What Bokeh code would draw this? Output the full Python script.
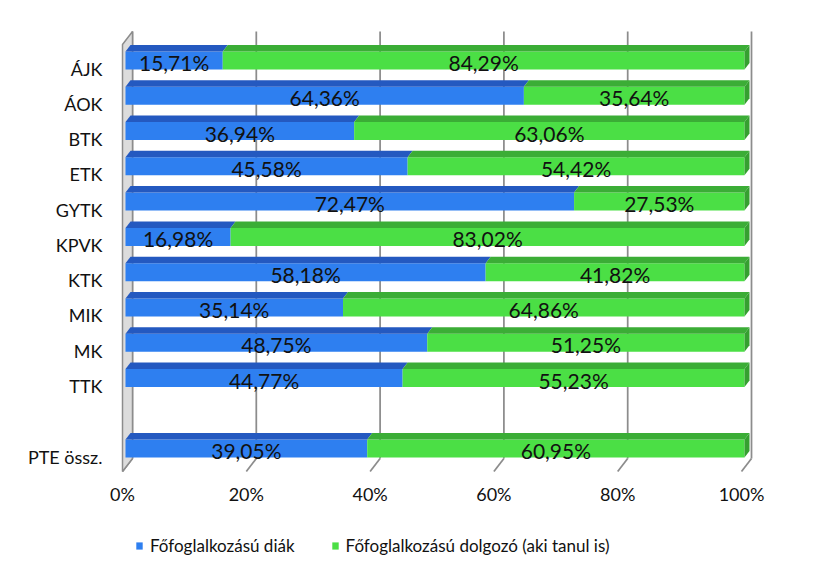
import numpy as np
from bokeh.plotting import figure
from bokeh.layouts import column
from bokeh.models import FixedTicker, Legend, LegendItem, ColumnDataSource, Range1d
from bokeh.embed import file_html
from bokeh.resources import INLINE
from bokeh.core.properties import value

# ---------------- data ----------------
categories = ["ÁJK", "ÁOK", "BTK", "ETK", "GYTK", "KPVK", "KTK", "MIK", "MK", "TTK", "", "PTE össz."]
diak = [15.71, 64.36, 36.94, 45.58, 72.47, 16.98, 58.18, 35.14, 48.75, 44.77, None, 39.05]
dolgozo = [84.29, 35.64, 63.06, 54.42, 27.53, 83.02, 41.82, 64.86, 51.25, 55.23, None, 60.95]
x_ticks = [0, 20, 40, 60, 80, 100]
x_tick_labels = ["0%", "20%", "40%", "60%", "80%", "100%"]
series_names = ["Főfoglalkozású diák", "Főfoglalkozású dolgozó (aki tanul is)"]

# ---------------- geometry (pixel based 3D look) ----------------
PX_X = 100 / 619.0          # % per pixel
PX_Y = 1 / 35.27            # slot units per pixel
FLOOR_Y = -15 * PX_Y
TOP_Y = (455 - 43) * PX_Y
WX, WY = 10 * PX_X, 13 * PX_Y        # depth of the whole box
BX0 = 3 * PX_X                       # bar front x offset
BYC = 8 * PX_Y                       # bar front centre offset above slot
BH = 18 * PX_Y                       # bar front height
BDX, BDY = 5 * PX_X, 6.5 * PX_Y      # bar depth

FONT = "Lato"
BLUE_F, BLUE_T = "#2E7FF0", "#2459C0"
GREEN_F, GREEN_T, GREEN_S = "#4BDF45", "#3BAD36", "#35A030"
GRID = "#8C8C8C"

n = len(categories)
slots = [n - 1 - i for i in range(n)]

p = figure(frame_width=652, frame_height=450, output_backend="svg", toolbar_location=None,
           x_range=Range1d(-10 * PX_X, (765 - 123) * PX_X),
           y_range=Range1d((455 - 472) * PX_Y, (455 - 22) * PX_Y),
           min_border_left=112, min_border_right=35, min_border_top=23, min_border_bottom=0)
p.outline_line_color = None
p.xgrid.visible = False
p.ygrid.visible = False
p.background_fill_color = "white"
p.border_fill_color = "white"

# back wall gridlines + floor slants
gx_back = [[t + WX, t + WX] for t in x_ticks]
gy_back = [[FLOOR_Y + WY, TOP_Y + WY] for t in x_ticks]
p.multi_line(gx_back, gy_back, line_color=GRID, line_width=1.75)
gx_floor = [[t, t + WX] for t in x_ticks]
gy_floor = [[FLOOR_Y, FLOOR_Y + WY] for t in x_ticks]
p.multi_line(gx_floor, gy_floor, line_color=GRID, line_width=1.75)

# left side wall
p.patch([0, WX, WX, 0], [FLOOR_Y, FLOOR_Y + WY, TOP_Y + WY, TOP_Y],
        fill_color="#DCDCDC", line_color=GRID, line_width=1.5)

# bars
idx = [i for i in range(n) if diak[i] is not None]
yc = np.array([slots[i] + BYC for i in idx], dtype=float)
a = np.array([diak[i] for i in idx], dtype=float)
b = np.array([dolgozo[i] for i in idx], dtype=float)

blue_src = ColumnDataSource(dict(y=yc, left=np.full(len(a), BX0), right=BX0 + a))
green_src = ColumnDataSource(dict(y=yc, left=BX0 + a, right=BX0 + a + b))

p.hbar(y="y", left="left", right="right", height=BH, source=blue_src,
       fill_color=BLUE_F, line_color=None)
p.hbar(y="y", left="left", right="right", height=BH, source=green_src,
       fill_color=GREEN_F, line_color=None)

def top_faces(lefts, rights, ys):
    xs, yss = [], []
    for l, r, y in zip(lefts, rights, ys):
        yt = y + BH / 2
        xs.append([float(l), float(r), float(r + BDX), float(l + BDX)])
        yss.append([float(yt), float(yt), float(yt + BDY), float(yt + BDY)])
    return xs, yss

bx, by = top_faces(BX0 + 0 * a, BX0 + a, yc)
p.patches(bx, by, fill_color=BLUE_T, line_color=None)
gx, gy = top_faces(BX0 + a, BX0 + a + b, yc)
p.patches(gx, gy, fill_color=GREEN_T, line_color=None)

sx, sy = [], []
for l, r, y in zip(a, b, yc):
    R = float(BX0 + l + r)
    y = float(y)
    sx.append([R, R + BDX, R + BDX, R])
    sy.append([y - BH / 2, y - BH / 2 + BDY, y + BH / 2 + BDY, y + BH / 2])
p.patches(sx, sy, fill_color=GREEN_S, line_color=None)

# data labels
def fmt(v):
    return ("%.2f" % v).replace(".", ",") + "%"

lab_x = [float(v) for v in list(BX0 + a / 2) + list(BX0 + a + b / 2)]
lab_y = [float(v) for v in list(yc - 0.06) + list(yc - 0.06)]
lab_t = [fmt(v) for v in a] + [fmt(v) for v in b]
p.text(x=lab_x, y=lab_y, text=lab_t, text_align="center", text_baseline="middle",
       text_font=value(FONT), text_font_size="21px", text_color="#111111")

# axes
p.xaxis.ticker = FixedTicker(ticks=x_ticks)
p.xaxis.major_label_overrides = {t: l for t, l in zip(x_ticks, x_tick_labels)}
p.xaxis.axis_line_color = None
p.xaxis.major_tick_line_color = None
p.xaxis.minor_tick_line_color = None
p.xaxis.major_tick_out = 0
p.xaxis.major_tick_in = 0
p.xaxis.major_label_standoff = 9
p.xaxis.major_label_text_font = FONT
p.xaxis.major_label_text_font_size = "18px"
p.xaxis.major_label_text_color = "#111111"

ytick = [slots[i] for i in range(n) if categories[i] != ""]
p.yaxis.ticker = FixedTicker(ticks=ytick)
p.yaxis.major_label_overrides = {slots[i]: categories[i] for i in range(n) if categories[i] != ""}
p.yaxis.axis_line_color = None
p.yaxis.major_tick_line_color = None
p.yaxis.minor_tick_line_color = None
p.yaxis.major_tick_out = 0
p.yaxis.major_tick_in = 0
p.yaxis.major_label_standoff = 10
p.yaxis.major_label_text_font = FONT
p.yaxis.major_label_text_font_size = "18px"
p.yaxis.major_label_text_color = "#111111"

# legend strip (separate small figure; its swatch renderers sit outside its ranges)
p2 = figure(width=799, height=60, output_backend="svg", toolbar_location=None,
            x_axis_location=None, y_axis_location=None,
            x_range=Range1d(0, 1), y_range=Range1d(0, 1),
            min_border_left=0, min_border_right=0, min_border_top=0, min_border_bottom=0)
p2.outline_line_color = None
p2.xgrid.visible = False
p2.ygrid.visible = False
lb = p2.hbar(y=[-5], left=[-5], right=[-4], height=0.1, fill_color=BLUE_F, line_color=None)
lg = p2.hbar(y=[-5], left=[-5], right=[-4], height=0.1, fill_color=GREEN_F, line_color=None)
legend = Legend(items=[LegendItem(label=series_names[0], renderers=[lb]),
                       LegendItem(label=series_names[1], renderers=[lg])],
                orientation="horizontal", location=(23, 11),
                border_line_color=None, background_fill_alpha=0,
                glyph_width=8, glyph_height=9, label_standoff=7, spacing=36,
                padding=0, margin=0,
                label_text_font=FONT, label_text_font_size="17px", label_text_color="#111111")
p2.add_layout(legend, "center")

open("out.html", "w").write(file_html(column(p, p2, spacing=0), INLINE))
